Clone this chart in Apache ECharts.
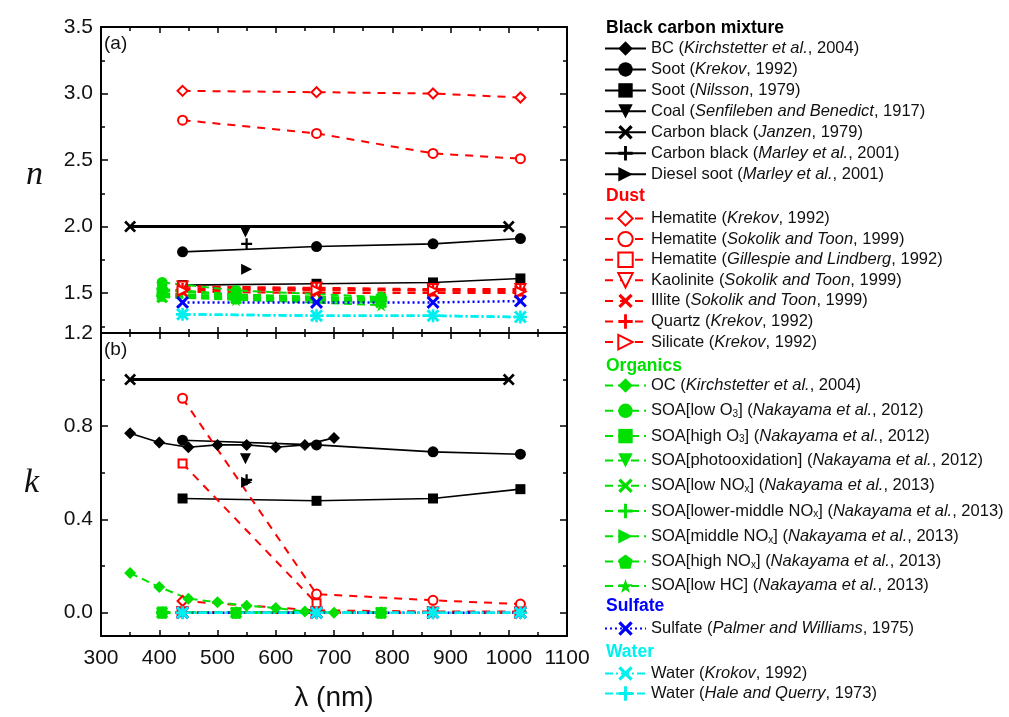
<!DOCTYPE html>
<html><head><meta charset="utf-8">
<script src="https://cdn.jsdelivr.net/npm/echarts@6/dist/echarts.min.js"></script>
<style>html,body{margin:0;padding:0;background:#fff}#c{width:1009px;height:717px}</style>
</head><body><div id="c"></div>
<script>
// ---------- DATA ----------
const xTicks = [300, 400, 500, 600, 700, 800, 900, 1000, 1100];
const nTickLabels = [1.2, 1.5, 2.0, 2.5, 3.0, 3.5];
const kTickLabels = [0.0, 0.4, 0.8];

const lamAER = [440, 670, 870, 1020];
const lamBC = [350, 400, 450, 500, 550, 600, 650, 700];
const lamPASS = [405, 532, 781];
const lamJanzen = [350, 1000];
const lamMarley = [550];
const lamCoal = [548];
const lamGill = [440, 670];

// Black carbon mixture
const n_bcKirch = [];
const k_bcKirch = [0.77, 0.73, 0.71, 0.72, 0.72, 0.71, 0.72, 0.75];
const n_sootKrekov = [1.81, 1.85, 1.87, 1.91];
const k_sootKrekov = [0.74, 0.72, 0.69, 0.68];
const n_sootNilsson = [1.56, 1.57, 1.58, 1.61];
const k_sootNilsson = [0.49, 0.48, 0.49, 0.53];
const n_coal = [1.96];
const k_coal = [0.66];
const n_cbJanzen = [2.0, 2.0];
const k_cbJanzen = [1.0, 1.0];
const n_cbMarley = [1.87];
const k_cbMarley = [0.57];
const n_diesel = [1.68];
const k_diesel = [0.56];
// Dust
const n_hemKrekov = [3.02, 3.01, 3.00, 2.97];
const k_hemKrekov = [0.05, 0.01, 0.005, 0.005];
const n_hemSokolik = [2.80, 2.70, 2.55, 2.51];
const k_hemSokolik = [0.92, 0.08, 0.053, 0.037];
const n_hemGill = [1.55, 1.53];
const k_hemGill = [0.64, 0.04];
const n_kaolinite = [1.55, 1.54, 1.53, 1.53];
const k_kaolinite = [0.002, 0.001, 0.001, 0.001];
const n_illite = [1.51, 1.50, 1.50, 1.50];
const k_illite = [0.002, 0.001, 0.001, 0.001];
const n_quartz = [1.53, 1.53, 1.52, 1.52];
const k_quartz = [0.0, 0.0, 0.0, 0.0];
const n_silicate = [1.52, 1.52, 1.52, 1.51];
const k_silicate = [0.0, 0.0, 0.0, 0.0];
// Organics
const lamOC = [350, 400, 450, 500, 550, 600, 650, 700];
const k_oc = [0.17, 0.11, 0.06, 0.045, 0.03, 0.02, 0.005, 0.0];
const n_soaLowO3 = [1.58, 1.52, 1.47];
const k_soaLowO3 = [0.0, 0.0, 0.0];
const n_soaHighO3 = [1.50, 1.47, 1.44];
const k_soaHighO3 = [0.0, 0.0, 0.0];
const n_soaPhoto = [1.52, 1.48, 1.45];
const k_soaPhoto = [0.003, 0.0, 0.0];
const n_soaLowNOx = [1.47, 1.46, 1.43];
const k_soaLowNOx = [0.0, 0.0, 0.0];
const n_soaLMNOx = [1.48, 1.46, 1.44];
const k_soaLMNOx = [0.0, 0.0, 0.0];
const n_soaMidNOx = [1.49, 1.47, 1.45];
const k_soaMidNOx = [0.0, 0.0, 0.0];
const n_soaHighNOx = [1.53, 1.49, 1.46];
const k_soaHighNOx = [0.0, 0.0, 0.0];
const n_soaLowHC = [1.47, 1.45, 1.41];
const k_soaLowHC = [0.0, 0.0, 0.0];
// Sulfate
const n_sulfate = [1.43, 1.43, 1.43, 1.44];
const k_sulfate = [0.0, 0.0, 0.0, 0.0];
// Water
const n_waterKrekov = [1.34, 1.33, 1.33, 1.32];
const k_waterKrekov = [0.0, 0.0, 0.0, 0.0];
const n_waterHale = [1.34, 1.33, 1.33, 1.32];
const k_waterHale = [0.0, 0.0, 0.0, 0.0];

// ---------- STYLE ----------
const RED = '#ff0000', GRN = '#00e000', BLU = '#0000ff', CYN = '#00f0f0', BLK = '#000000';
const SYM = {
  downTri: 'path://M0,0 L10,0 L5,10 Z',
  rightTri: 'path://M0,0 L10,5 L0,10 Z',
  cross: 'path://M0,1.6 L1.6,0 L5,3.4 L8.4,0 L10,1.6 L6.6,5 L10,8.4 L8.4,10 L5,6.6 L1.6,10 L0,8.4 L3.4,5 Z',
  plus: 'path://M4,0 L6,0 L6,4 L10,4 L10,6 L6,6 L6,10 L4,10 L4,6 L0,6 L0,4 L4,4 Z',
  pent: 'path://M5,0 L10,3.8 L8.5,10 L1.5,10 L0,3.8 Z',
  star: 'path://M5,0 L6.2,3.6 L10,3.6 L6.9,5.9 L8.1,9.5 L5,7.3 L1.9,9.5 L3.1,5.9 L0,3.6 L3.8,3.6 Z',
  rect: 'rect', circle: 'circle', diamond: 'diamond'
};
const LS = {
  bc: {color: BLK, width: 1.6, type: 'solid'},
  bcThick: {color: BLK, width: 3, type: 'solid'},
  dust: {color: RED, width: 2, type: [8, 7]},
  org: {color: GRN, width: 2, type: [8, 5]},
  sul: {color: BLU, width: 2.5, type: [2, 3]},
  wat: {color: CYN, width: 2.5, type: [8, 3, 2, 3]}
};

// name, x, n, k, symbol, line, color, hollow, size
const defs = [
  ['BC (Kirchstetter et al., 2004)', lamBC, n_bcKirch, k_bcKirch, 'diamond', 'bc', BLK, false, 12],
  ['Soot (Krekov, 1992)', lamAER, n_sootKrekov, k_sootKrekov, 'circle', 'bc', BLK, false, 11],
  ['Soot (Nilsson, 1979)', lamAER, n_sootNilsson, k_sootNilsson, 'rect', 'bc', BLK, false, 10],
  ['Coal (Senfileben and Benedict, 1917)', lamCoal, n_coal, k_coal, 'downTri', 'bc', BLK, false, 11],
  ['Carbon black (Janzen, 1979)', lamJanzen, n_cbJanzen, k_cbJanzen, 'cross', 'bcThick', BLK, false, 12],
  ['Carbon black (Marley et al., 2001)', lamMarley, n_cbMarley, k_cbMarley, 'plus', 'bc', BLK, false, 11],
  ['Diesel soot (Marley et al., 2001)', lamMarley, n_diesel, k_diesel, 'rightTri', 'bc', BLK, false, 11],
  ['Hematite (Krekov, 1992)', lamAER, n_hemKrekov, k_hemKrekov, 'diamond', 'dust', RED, true, 10],
  ['Hematite (Sokolik and Toon, 1999)', lamAER, n_hemSokolik, k_hemSokolik, 'circle', 'dust', RED, true, 9],
  ['Hematite (Gillespie and Lindberg, 1992)', lamGill, n_hemGill, k_hemGill, 'rect', 'dust', RED, true, 8],
  ['Kaolinite (Sokolik and Toon, 1999)', lamAER, n_kaolinite, k_kaolinite, 'downTri', 'dust', RED, true, 10],
  ['Illite (Sokolik and Toon, 1999)', lamAER, n_illite, k_illite, 'cross', 'dust', RED, false, 12],
  ['Quartz (Krekov, 1992)', lamAER, n_quartz, k_quartz, 'plus', 'dust', RED, false, 12],
  ['Silicate (Krekov, 1992)', lamAER, n_silicate, k_silicate, 'rightTri', 'dust', RED, true, 10],
  ['OC (Kirchstetter et al., 2004)', lamOC, [], k_oc, 'diamond', 'org', GRN, false, 12],
  ['SOA[low O3] (Nakayama et al., 2012)', lamPASS, n_soaLowO3, k_soaLowO3, 'circle', 'org', GRN, false, 11],
  ['SOA[high O3] (Nakayama et al., 2012)', lamPASS, n_soaHighO3, k_soaHighO3, 'rect', 'org', GRN, false, 10],
  ['SOA[photooxidation] (Nakayama et al., 2012)', lamPASS, n_soaPhoto, k_soaPhoto, 'downTri', 'org', GRN, false, 11],
  ['SOA[low NOx] (Nakayama et al., 2013)', lamPASS, n_soaLowNOx, k_soaLowNOx, 'cross', 'org', GRN, false, 12],
  ['SOA[lower-middle NOx] (Nakayama et al., 2013)', lamPASS, n_soaLMNOx, k_soaLMNOx, 'plus', 'org', GRN, false, 12],
  ['SOA[middle NOx] (Nakayama et al., 2013)', lamPASS, n_soaMidNOx, k_soaMidNOx, 'rightTri', 'org', GRN, false, 11],
  ['SOA[high NOx] (Nakayama et al., 2013)', lamPASS, n_soaHighNOx, k_soaHighNOx, 'pent', 'org', GRN, false, 12],
  ['SOA[low HC] (Nakayama et al., 2013)', lamPASS, n_soaLowHC, k_soaLowHC, 'star', 'org', GRN, false, 13],
  ['Sulfate (Palmer and Williams, 1975)', lamAER, n_sulfate, k_sulfate, 'cross', 'sul', BLU, false, 13],
  ['Water (Krokov, 1992)', lamAER, n_waterKrekov, k_waterKrekov, 'cross', 'wat', CYN, false, 13],
  ['Water (Hale and Querry, 1973)', lamAER, n_waterHale, k_waterHale, 'plus', 'wat', CYN, false, 13]
];

// legend rich labels
const LBL = {
  'BC (Kirchstetter et al., 2004)': [['n','BC ('],['i','Kirchstetter et al.'],['n',', 2004)']],
  'Soot (Krekov, 1992)': [['n','Soot ('],['i','Krekov'],['n',', 1992)']],
  'Soot (Nilsson, 1979)': [['n','Soot ('],['i','Nilsson'],['n',', 1979)']],
  'Coal (Senfileben and Benedict, 1917)': [['n','Coal ('],['i','Senfileben and Benedict'],['n',', 1917)']],
  'Carbon black (Janzen, 1979)': [['n','Carbon black ('],['i','Janzen'],['n',', 1979)']],
  'Carbon black (Marley et al., 2001)': [['n','Carbon black ('],['i','Marley et al.'],['n',', 2001)']],
  'Diesel soot (Marley et al., 2001)': [['n','Diesel soot ('],['i','Marley et al.'],['n',', 2001)']],
  'Hematite (Krekov, 1992)': [['n','Hematite ('],['i','Krekov'],['n',', 1992)']],
  'Hematite (Sokolik and Toon, 1999)': [['n','Hematite ('],['i','Sokolik and Toon'],['n',', 1999)']],
  'Hematite (Gillespie and Lindberg, 1992)': [['n','Hematite ('],['i','Gillespie and Lindberg'],['n',', 1992)']],
  'Kaolinite (Sokolik and Toon, 1999)': [['n','Kaolinite ('],['i','Sokolik and Toon'],['n',', 1999)']],
  'Illite (Sokolik and Toon, 1999)': [['n','Illite ('],['i','Sokolik and Toon'],['n',', 1999)']],
  'Quartz (Krekov, 1992)': [['n','Quartz ('],['i','Krekov'],['n',', 1992)']],
  'Silicate (Krekov, 1992)': [['n','Silicate ('],['i','Krekov'],['n',', 1992)']],
  'OC (Kirchstetter et al., 2004)': [['n','OC ('],['i','Kirchstetter et al.'],['n',', 2004)']],
  'SOA[low O3] (Nakayama et al., 2012)': [['n','SOA[low O'],['s','3'],['n','] ('],['i','Nakayama et al.'],['n',', 2012)']],
  'SOA[high O3] (Nakayama et al., 2012)': [['n','SOA[high O'],['s','3'],['n','] ('],['i','Nakayama et al.'],['n',', 2012)']],
  'SOA[photooxidation] (Nakayama et al., 2012)': [['n','SOA[photooxidation] ('],['i','Nakayama et al.'],['n',', 2012)']],
  'SOA[low NOx] (Nakayama et al., 2013)': [['n','SOA[low NO'],['s','x'],['n','] ('],['i','Nakayama et al.'],['n',', 2013)']],
  'SOA[lower-middle NOx] (Nakayama et al., 2013)': [['n','SOA[lower-middle NO'],['s','x'],['n','] ('],['i','Nakayama et al.'],['n',', 2013)']],
  'SOA[middle NOx] (Nakayama et al., 2013)': [['n','SOA[middle NO'],['s','x'],['n','] ('],['i','Nakayama et al.'],['n',', 2013)']],
  'SOA[high NOx] (Nakayama et al., 2013)': [['n','SOA[high NO'],['s','x'],['n','] ('],['i','Nakayama et al.'],['n',', 2013)']],
  'SOA[low HC] (Nakayama et al., 2013)': [['n','SOA[low HC] ('],['i','Nakayama et al.'],['n',', 2013)']],
  'Sulfate (Palmer and Williams, 1975)': [['n','Sulfate ('],['i','Palmer and Williams'],['n',', 1975)']],
  'Water (Krokov, 1992)': [['n','Water ('],['i','Krokov'],['n',', 1992)']],
  'Water (Hale and Querry, 1973)': [['n','Water ('],['i','Hale and Querry'],['n',', 1973)']]
};

const FONT = 'Liberation Sans, Arial, sans-serif';
const series = [];
defs.forEach(d => {
  const [name, xs, ns, ks, sym, ls, col, hollow, size] = d;
  [ns, ks].forEach((ys, gi) => {
    series.push({
      name, type: 'line', xAxisIndex: gi * 2, yAxisIndex: gi * 4,
      data: ys.map((v, i) => [xs[i], v]),
      symbol: SYM[sym], symbolSize: size, showSymbol: true, animation: false,
      lineStyle: LS[ls],
      itemStyle: hollow ? {color: '#fff', borderColor: col, borderWidth: 2} : {color: col, borderWidth: 0},
      emphasis: {disabled: true}, z: 3
    });
  });
});

const chart = echarts.init(document.getElementById('c'), null, {renderer: 'canvas'});
const G = [{left: 101, top: 27, width: 466, height: 306}, {left: 101, top: 333, width: 466, height: 303}];

function xAx(gi, pos, labels) {
  return {
    type: 'value', gridIndex: gi, position: pos, min: 300, max: 1100, interval: 100,
    axisLine: {show: true, onZero: false, lineStyle: {color: '#000', width: 2}},
    axisTick: {show: true, inside: true, length: 6, lineStyle: {color: '#000', width: 1.5}},
    minorTick: {show: true, splitNumber: 2, length: 4, lineStyle: {color: '#000', width: 1.5}},
    axisLabel: {show: labels, fontSize: 21, color: '#111', fontFamily: FONT, margin: 12, formatter: v => String(v)},
    splitLine: {show: false},
    name: labels ? 'λ (nm)' : '', nameLocation: 'middle', nameGap: 48,
    nameTextStyle: {fontSize: 28, color: '#111', fontFamily: FONT}
  };
}
function yAx(gi, pos, min, max, major, minor, labelVals, isMinor) {
  return {
    type: 'value', gridIndex: gi, position: pos, min, max,
    axisLine: {show: !isMinor, onZero: false, lineStyle: {color: '#000', width: 2}},
    axisTick: {show: true, inside: true, length: isMinor ? 4 : 7, customValues: isMinor ? minor : major,
      lineStyle: {color: '#000', width: 1.5}},
    axisLabel: {show: !!labelVals, customValues: labelVals || [], fontSize: 21, color: '#111', fontFamily: FONT,
      margin: 8, formatter: v => Number(v).toFixed(1)},
    splitLine: {show: false}
  };
}
const nMajor = [1.5, 2.0, 2.5, 3.0, 3.5], nMinor = [1.25, 1.75, 2.25, 2.75, 3.25];
const kMajor = [0.0, 0.4, 0.8], kMinor = [0.2, 0.6, 1.0];

const yAxes = [
  yAx(0, 'left', 1.2, 3.5, nMajor, nMinor, nTickLabels, false),
  yAx(0, 'left', 1.2, 3.5, nMajor, nMinor, null, true),
  yAx(0, 'right', 1.2, 3.5, nMajor, nMinor, null, false),
  yAx(0, 'right', 1.2, 3.5, nMajor, nMinor, null, true),
  yAx(1, 'left', -0.1, 1.2, kMajor, kMinor, kTickLabels, false),
  yAx(1, 'left', -0.1, 1.2, kMajor, kMinor, null, true),
  yAx(1, 'right', -0.1, 1.2, kMajor, kMinor, null, false),
  yAx(1, 'right', -0.1, 1.2, kMajor, kMinor, null, true)
];

const FS = 16.5;
const richTS = {
  fontSize: FS, fontFamily: FONT, color: '#111', lineHeight: 17,
  rich: {
    n: {fontSize: FS, fontFamily: FONT, color: '#111', lineHeight: 17},
    i: {fontSize: FS, fontFamily: FONT, color: '#111', fontStyle: 'italic', lineHeight: 17},
    s: {fontSize: 10, fontFamily: FONT, color: '#111', lineHeight: 17, verticalAlign: 'bottom', padding: [8, 0, 0, 0]}
  }
};
function legendFmt(name) { return (LBL[name] || [['n', name]]).map(p => '{' + p[0] + '|' + p[1] + '}').join(''); }
function leg(names, top, gap) {
  return {
    data: names, orient: 'vertical', left: 604, top, padding: 0, itemGap: gap, itemWidth: 41, itemHeight: 18,
    selectedMode: false, formatter: legendFmt, textStyle: richTS, align: 'left'
  };
}
const names = defs.map(d => d[0]);
const hdr = (t, y, c) => ({type: 'text', left: 606, top: y, style: {text: t, fill: c, font: 'bold 17.5px ' + FONT}});

chart.setOption({
  backgroundColor: '#fff',
  animation: false,
  grid: G,
  xAxis: [xAx(0, 'bottom', false), xAx(0, 'top', false), xAx(1, 'bottom', true), xAx(1, 'top', false)],
  yAxis: yAxes,
  legend: [
    leg(names.slice(0, 7), 40, 3.95),
    leg(names.slice(7, 14), 210, 3.6),
    leg(names.slice(14, 23), 377, 7.3),
    leg(names.slice(23, 24), 620, 3),
    leg(names.slice(24, 26), 665, 3)
  ],
  graphic: [
    hdr('Black carbon mixture', 19, '#000'),
    hdr('Dust', 187, RED),
    hdr('Organics', 357, GRN),
    hdr('Sulfate', 597, BLU),
    hdr('Water', 643, CYN),
    {type: 'text', left: 104, top: 34, style: {text: '(a)', font: '19px ' + FONT, fill: '#111'}},
    {type: 'text', left: 104, top: 340, style: {text: '(b)', font: '19px ' + FONT, fill: '#111'}},
    {type: 'text', left: 26, top: 158, style: {text: 'n', font: 'italic 34px Liberation Serif, Times New Roman, serif', fill: '#111'}},
    {type: 'text', left: 24, top: 466, style: {text: 'k', font: 'italic 34px Liberation Serif, Times New Roman, serif', fill: '#111'}}
  ],
  series
});
</script></body></html>
